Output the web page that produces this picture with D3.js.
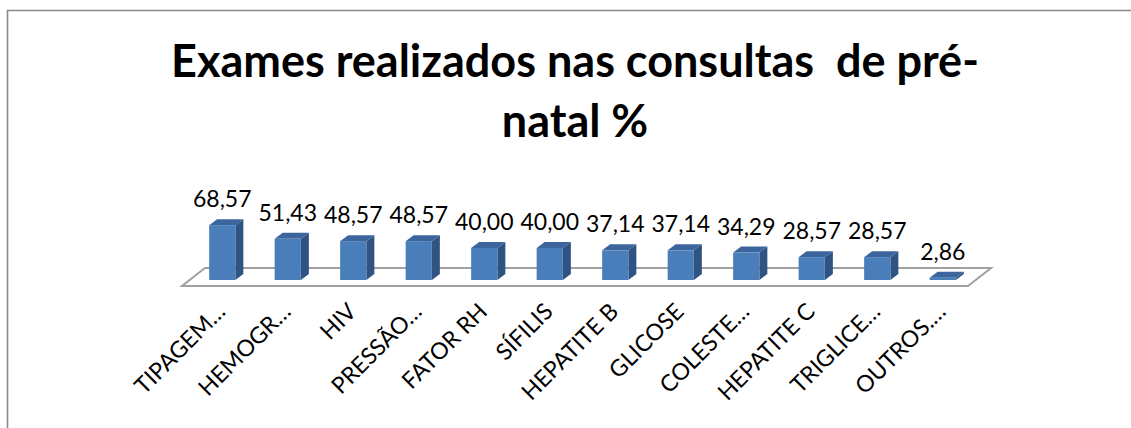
<!DOCTYPE html>
<html lang="pt">
<head>
<meta charset="utf-8">
<title>Exames pré-natal</title>
<script src="https://cdn.jsdelivr.net/npm/d3@7/dist/d3.min.js"></script>
<style>
  body { margin: 0; background: #fff; }
  text { font-family: Lato, "Open Sans", sans-serif; fill: #000; white-space: pre; }
</style>
</head>
<body>
<svg width="1131" height="428"></svg>
<script>
var categories = ['TIPAGEM…', 'HEMOGR…', 'HIV', 'PRESSÃO…', 'FATOR RH', 'SÍFILIS',
                  'HEPATITE B', 'GLICOSE', 'COLESTE…', 'HEPATITE C', 'TRIGLICE…', 'OUTROS.…'];
var values = [68.57, 51.43, 48.57, 48.57, 40.00, 40.00, 37.14, 37.14, 34.29, 28.57, 28.57, 2.86];
var titleLines = ['Exames realizados nas consultas  de pré-', 'natal %'];

var svg = d3.select('svg');
var pt = d3.formatLocale({decimal: ',', thousands: '.', grouping: [3], currency: ['R$', '']});
var fmt = pt.format('.2f');

// frame
svg.append('path')
    .attr('d', 'M7.5,440 L7.5,10.5 L1140,10.5')
    .attr('fill', 'none')
    .attr('stroke', '#8a8a8a')
    .attr('stroke-width', 1.6);

// title
var title = svg.append('text')
    .attr('text-anchor', 'middle')
    .style('font-weight', 'bold')
    .style('font-size', '45px');
title.selectAll('tspan')
    .data(titleLines)
    .enter()
    .append('tspan')
    .attr('x', 575)
    .attr('y', (d, i) => 77 + i * 60)
    .text(d => d);

// scales
var x = d3.scaleBand().domain(categories).range([182, 968]).padding(0);
var y = d3.scaleLinear().domain([0, 70]).range([280, 224]);

var floorDx = 23, floorDy = -18;   // depth of the floor
var barOffX = 7.5, barOffY = -6;   // bars sit in the middle of the depth
var depthX = 8, depthY = -6;       // depth of each bar
var bw = x.bandwidth() * 0.4;

// floor
var fy = y(0) - barOffY;
var x0 = x.range()[0], x1 = x.range()[1];
svg.append('path')
    .attr('d', 'M' + x0 + ',' + fy + ' L' + x1 + ',' + fy +
               ' L' + (x1 + floorDx) + ',' + (fy + floorDy) +
               ' L' + (x0 + floorDx) + ',' + (fy + floorDy) + ' Z')
    .attr('fill', '#fff')
    .attr('stroke', '#a0a0a0')
    .attr('stroke-width', 2);

var bars = svg.selectAll('g.bar')
    .data(categories.map((c, i) => ({c: c, v: values[i]})))
    .enter()
    .append('g')
    .attr('class', 'bar');

function fx(d) { return x(d.c) + x.bandwidth() / 2 - bw / 2 + barOffX; }

// side face
bars.append('path')
    .attr('d', d => {
        var l = fx(d) + bw, t = y(d.v), b = y(0);
        return 'M' + l + ',' + b + ' L' + (l + depthX) + ',' + (b + depthY) +
               ' L' + (l + depthX) + ',' + (t + depthY) + ' L' + l + ',' + t + ' Z';
    })
    .attr('fill', '#2f5382');
// top face
bars.append('path')
    .attr('d', d => {
        var l = fx(d), t = y(d.v);
        return 'M' + l + ',' + t + ' L' + (l + bw) + ',' + t +
               ' L' + (l + bw + depthX) + ',' + (t + depthY) +
               ' L' + (l + depthX) + ',' + (t + depthY) + ' Z';
    })
    .attr('fill', '#3b659c');
// front face
bars.append('rect')
    .attr('x', d => fx(d))
    .attr('y', d => y(d.v))
    .attr('width', bw)
    .attr('height', d => y(0) - y(d.v))
    .attr('fill', '#4a7ebb');

// value labels
bars.append('text')
    .attr('x', d => fx(d) + bw / 2)
    .attr('y', d => y(d.v) - 18)
    .attr('text-anchor', 'middle')
    .style('font-size', '23px')
    .text(d => fmt(d.v));

// category labels
svg.selectAll('text.cat')
    .data(categories)
    .enter()
    .append('text')
    .attr('class', 'cat')
    .attr('text-anchor', 'end')
    .style('font-size', '23px')
    .attr('transform', d => 'translate(' + (x(d) + x.bandwidth() / 2 + 12) + ',' + 313 + ') rotate(-45)')
    .text(d => d);
</script>
</body>
</html>
